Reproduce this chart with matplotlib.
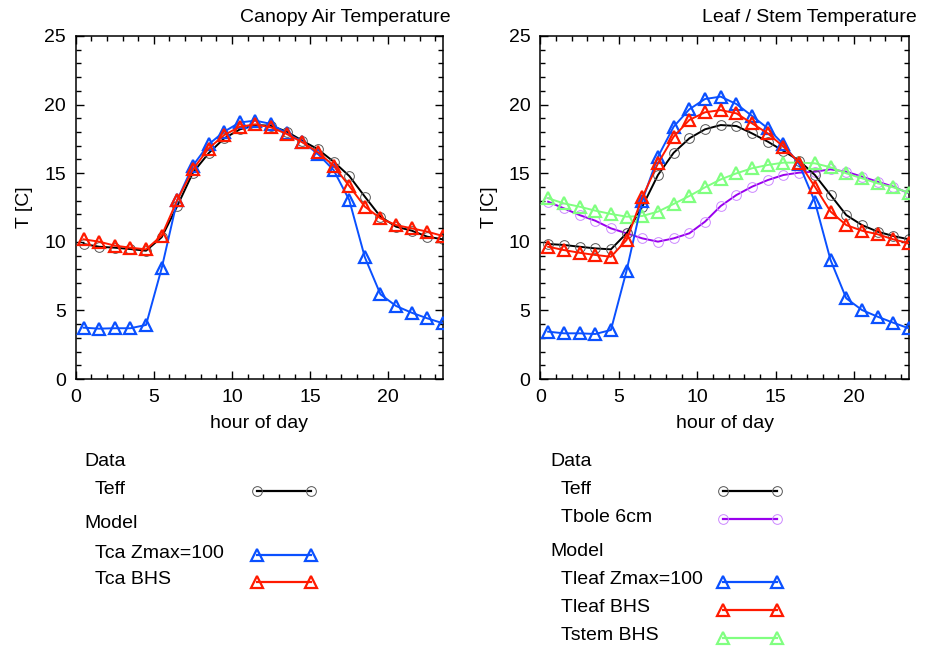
import numpy as np
import matplotlib.pyplot as plt
from matplotlib.ticker import MultipleLocator

plt.rcParams['font.family'] = ['Liberation Sans', 'DejaVu Sans']

hours = np.arange(0.5, 24, 1.0)

# canopy air temperature
teff_ca = [9.84, 9.64, 9.57, 9.47, 9.35, 10.33, 12.61, 15.04, 16.45, 17.54, 18.19, 18.51,
           18.46, 18.03, 17.37, 16.74, 15.84, 14.8, 13.29, 11.83, 11.1, 10.81, 10.37, 10.18]
tca_zmax = [3.74, 3.67, 3.7, 3.7, 3.94, 8.07, 13.05, 15.55, 17.1, 18.03, 18.7, 18.83,
            18.59, 17.9, 17.3, 16.4, 15.23, 13.05, 8.87, 6.17, 5.32, 4.83, 4.42, 4.06]
tca_bhs = [10.18, 10.01, 9.72, 9.57, 9.45, 10.45, 13.05, 15.28, 16.8, 17.78, 18.39, 18.56,
           18.34, 17.86, 17.25, 16.52, 15.55, 14.07, 12.56, 11.71, 11.22, 10.98, 10.74, 10.42]

# leaf / stem temperature
teff_leaf = [9.84, 9.77, 9.64, 9.52, 9.45, 10.62, 12.56, 14.87, 16.49, 17.54, 18.2, 18.51,
             18.44, 17.9, 17.3, 16.62, 15.91, 14.87, 13.41, 11.95, 11.22, 10.74, 10.42, 10.18]
tbole = [12.92, 12.44, 11.95, 11.54, 10.98, 10.62, 10.25, 10.01, 10.25, 10.62, 11.47, 12.61,
         13.41, 14.02, 14.5, 14.87, 15.04, 15.11, 15.28, 15.11, 14.75, 14.38, 14.02, 13.53]
tleaf_zmax = [3.45, 3.33, 3.33, 3.28, 3.57, 7.9, 13.0, 16.2, 18.39, 19.66, 20.41, 20.58,
              20.04, 19.17, 18.27, 17.1, 15.65, 12.92, 8.67, 5.88, 5.03, 4.54, 4.1, 3.69]
tleaf_bhs = [9.64, 9.4, 9.2, 9.04, 8.91, 10.13, 13.24, 15.72, 17.66, 18.88, 19.44, 19.6,
             19.36, 18.63, 17.9, 16.93, 15.77, 14.02, 12.2, 11.22, 10.81, 10.55, 10.18, 9.89]
tstem_bhs = [13.17, 12.8, 12.56, 12.27, 12.03, 11.83, 11.88, 12.2, 12.76, 13.34, 13.97, 14.55,
             14.99, 15.36, 15.6, 15.77, 15.77, 15.72, 15.43, 14.99, 14.63, 14.26, 13.97, 13.58]

BLUE = '#0a50ff'
RED = '#ff1a00'
GREEN = '#80ff80'
PURPLE = '#9900ee'
LPURPLE = '#cc88ff'
FS = 14

circ = dict(marker='o', markersize=7, mfc='none', mew=0.7)
tri = dict(marker='^', markersize=9, mfc='none', mew=1.6)

W, H = 928, 647
fig = plt.figure(figsize=(W / 100, H / 100), dpi=100)


def make_axes(x0, x1):
    ax = fig.add_axes([x0 / W, 1 - 379 / H, (x1 - x0) / W, (379 - 36) / H])
    ax.set_xlim(0, 23.5)
    ax.set_ylim(0, 25)
    ax.xaxis.set_major_locator(MultipleLocator(5))
    ax.xaxis.set_minor_locator(MultipleLocator(1))
    ax.yaxis.set_major_locator(MultipleLocator(5))
    ax.yaxis.set_minor_locator(MultipleLocator(1))
    ax.tick_params(which='both', direction='in', top=True, right=True, labelsize=FS, width=1)
    ax.tick_params(which='major', length=6, pad=7)
    ax.tick_params(which='minor', length=3.5)
    for s in ax.spines.values():
        s.set_linewidth(1.1)
    ax.set_xlabel('hour of day', fontsize=FS, labelpad=7)
    ax.set_ylabel('T [C]', fontsize=FS, labelpad=8)
    return ax


ax1 = make_axes(75.7, 443)
ax1.plot(hours, teff_ca, color='k', lw=1.4, zorder=2)
ax1.plot(hours, teff_ca, ls='none', mec='#555555', zorder=2, **circ)
ax1.plot(hours, tca_zmax, color=BLUE, lw=1.4, mec=BLUE, zorder=3, **tri)
ax1.plot(hours, tca_bhs, color=RED, lw=1.4, mec=RED, zorder=4, **tri)

ax2 = make_axes(540.3, 909)
ax2.plot(hours, tbole, color=PURPLE, lw=1.4, zorder=2)
ax2.plot(hours, tbole, ls='none', mec=LPURPLE, zorder=2, **circ)
ax2.plot(hours, teff_leaf, color='k', lw=1.4, zorder=2)
ax2.plot(hours, teff_leaf, ls='none', mec='#555555', zorder=2, **circ)
ax2.plot(hours, tstem_bhs, color=GREEN, lw=1.4, mec=GREEN, zorder=3, **tri)
ax2.plot(hours, tleaf_zmax, color=BLUE, lw=1.4, mec=BLUE, zorder=4, **tri)
ax2.plot(hours, tleaf_bhs, color=RED, lw=1.4, mec=RED, zorder=5, **tri)

fig.text(451 / W, 1 - 18 / H, 'Canopy Air Temperature', ha='right', va='center', fontsize=FS)
fig.text(917 / W, 1 - 18 / H, 'Leaf / Stem Temperature', ha='right', va='center', fontsize=FS)

# legends drawn in pixel coordinates
lg = fig.add_axes([0, 0, 1, 1])
lg.set_xlim(0, W)
lg.set_ylim(H, 0)
lg.axis('off')


def head(x, y, txt):
    lg.text(x, y, txt, ha='left', va='center', fontsize=FS)


def entry(x, y, txt, lx0, lx1, color, mcolor, style):
    lg.text(x, y, txt, ha='left', va='center', fontsize=FS)
    lg.plot([lx0, lx1], [y + 2, y + 2], color=color, lw=1.6, mec=mcolor, **style)


head(84, 461, 'Data')
entry(95, 489, 'Teff', 257, 311.5, 'k', '#555555', circ)
head(84, 523, 'Model')
entry(95, 553, 'Tca Zmax=100', 257, 311.5, BLUE, BLUE, tri)
entry(95, 580, 'Tca BHS', 257, 311.5, RED, RED, tri)

head(550, 461, 'Data')
entry(561, 489, 'Teff', 723, 777, 'k', '#555555', circ)
entry(561, 517, 'Tbole 6cm', 723, 777, PURPLE, LPURPLE, circ)
head(550, 552, 'Model')
entry(561, 580, 'Tleaf Zmax=100', 723, 777, BLUE, BLUE, tri)
entry(561, 608, 'Tleaf BHS', 723, 777, RED, RED, tri)
entry(561, 636, 'Tstem BHS', 723, 777, GREEN, GREEN, tri)

fig.savefig('out.png', dpi=100)
